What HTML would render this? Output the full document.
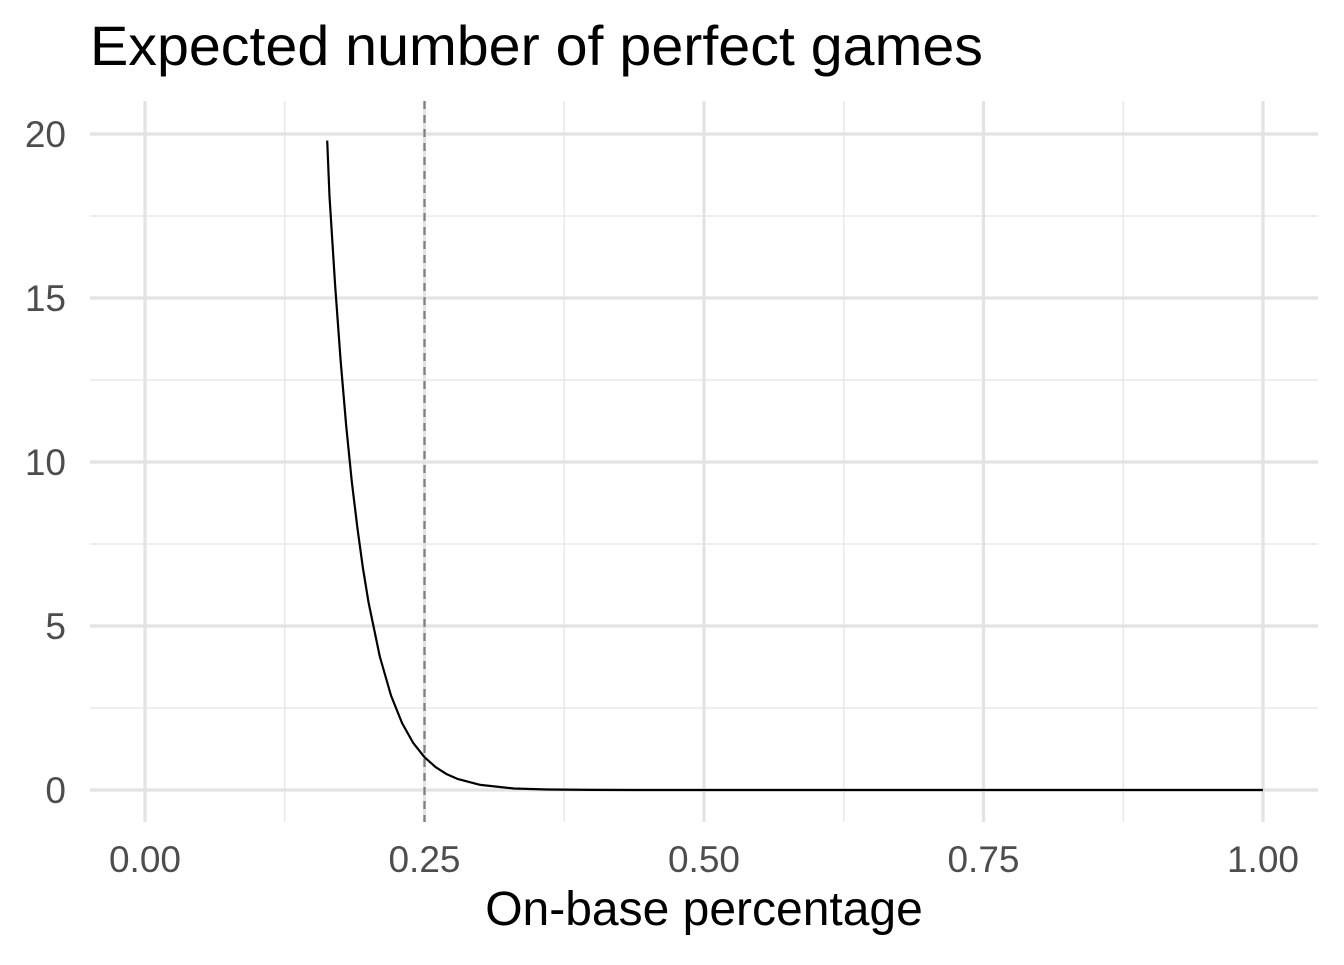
<!DOCTYPE html>
<html><head><meta charset="utf-8"><style>
body{margin:0;background:#fff}
svg text{font-family:"Liberation Sans",Arial,sans-serif}
</style></head><body>
<svg id="chart" width="1344" height="960" xmlns="http://www.w3.org/2000/svg">
<text x="90" y="65" font-size="56" textLength="893" lengthAdjust="spacingAndGlyphs" fill="#000">Expected number of perfect games</text>
<g id="grid"></g>
<g id="marks"></g>
<g id="labels"></g>
<text x="704" y="925" font-size="48" text-anchor="middle" fill="#000">On-base percentage</text>
</svg>
<script>
const obp = [0.163,0.165,0.17,0.175,0.18,0.185,0.19,0.195,0.20,0.21,0.22,0.23,0.24,0.25,0.26,0.27,0.28,0.30,0.33,0.36,0.40,0.45,0.5,0.75,1.0];
const expected = [19.8,18.1,15.4,13.1,11.1,9.4,7.99,6.75,5.71,4.07,2.88,2.04,1.43,1.0,0.696,0.48,0.332,0.155,0.047,0.014,0.0024,0.0002,0,0,0];
const xTicks = [0,0.25,0.5,0.75,1.0];
const xTickLabels = ["0.00","0.25","0.50","0.75","1.00"];
const yTicks = [0,5,10,15,20];
const yTickLabels = ["0","5","10","15","20"];
const refLine = 0.25;

const NS="http://www.w3.org/2000/svg";
const X=v=>145+v*1118, Y=v=>790-v*32.8;
const L=90,R=1318,T=101,B=822;
function mk(tag,attrs,parent){const e=document.createElementNS(NS,tag);for(const k in attrs)e.setAttribute(k,attrs[k]);document.getElementById(parent).appendChild(e);return e;}
for(let i=0;i<xTicks.length-1;i++){const v=(xTicks[i]+xTicks[i+1])/2;
 const e=mk('line',{x1:X(v),x2:X(v),y1:T,y2:B,stroke:'#e8e8e8','stroke-width':1.5},'grid');
 
 }
for(let i=0;i<yTicks.length-1;i++){const v=(yTicks[i]+yTicks[i+1])/2;
 const e=mk('line',{x1:L,x2:R,y1:Y(v),y2:Y(v),stroke:'#e8e8e8','stroke-width':1.5},'grid');
 
 }
xTicks.forEach((v,i)=>{
 const e=mk('line',{x1:X(v),x2:X(v),y1:T,y2:B,stroke:'#e3e3e3','stroke-width':3.2},'grid');
 
 
 const t=mk('text',{x:X(v),y:872,'font-size':37,'text-anchor':'middle',fill:'#4d4d4d'},'labels');
 t.textContent=xTickLabels[i];
 
 
});
yTicks.forEach((v,i)=>{
 const e=mk('line',{x1:L,x2:R,y1:Y(v),y2:Y(v),stroke:'#e3e3e3','stroke-width':3.2},'grid');
 
 
 const t=mk('text',{x:66,y:Y(v)+13,'font-size':37,'text-anchor':'end',fill:'#4d4d4d'},'labels');
 t.textContent=yTickLabels[i];
 
 
});
const d=mk('line',{x1:X(refLine),x2:X(refLine),y1:T,y2:B,stroke:'#7f7f7f','stroke-width':2.2,'stroke-dasharray':'8,6'},'marks');


const p=mk('path',{d:obp.map((v,i)=>(i?'L':'M')+X(v).toFixed(1)+','+Y(expected[i]).toFixed(1)).join(''),fill:'none',stroke:'#000','stroke-width':2.2,'stroke-linejoin':'round'},'marks');


</script>
</body></html>
